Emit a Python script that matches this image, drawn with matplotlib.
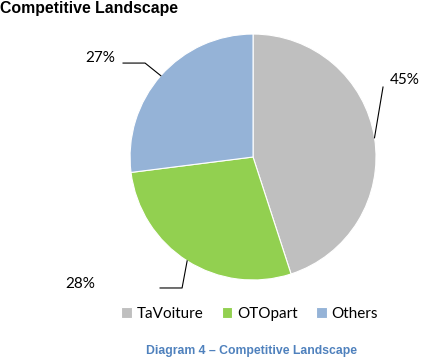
import matplotlib
matplotlib.use('Agg')
import matplotlib.pyplot as plt
import numpy as np

labels = ["TaVoiture", "OTOpart", "Others"]
shares = [45, 28, 27]
colors = ["#BFBFBF", "#92D050", "#95B3D7"]

fig = plt.figure(figsize=(4.23, 3.58), dpi=100)
ax = fig.add_axes([0.3074, 0.2179, 0.5816, 0.687])

wedges, _ = ax.pie(shares, colors=colors, startangle=90, counterclock=False,
                   wedgeprops=dict(linewidth=0.8, edgecolor='white'))
ax.set_xlim(-1, 1)
ax.set_ylim(-1, 1)
ax.set_aspect('equal')
ax.axis('off')

# leader lines: (elbow dx, dy), (end dx), label position
leaders = [
    [(1.057, 0.569), None, (1.236, 0.626)],
    [(-0.577, -1.065), (-0.756, -1.065), (-1.407, -1.033)],
    [(-0.878, 0.764), (-1.057, 0.764), (-1.244, 0.805)],
]
for w, s, (p1, p2, lab) in zip(wedges, shares, leaders):
    a = np.deg2rad((w.theta1 + w.theta2) / 2)
    xs = [np.cos(a), p1[0]]
    ys = [np.sin(a), p1[1]]
    if p2 is not None:
        xs.append(p2[0])
        ys.append(p2[1])
    ax.plot(xs, ys, color='black', lw=0.8, clip_on=False)
    ax.text(lab[0], lab[1], f"{s}%", ha='center', va='center', fontsize=11,
            family='Lato')

fig.text(0.0, 0.975, "Competitive Landscape", fontsize=11.4, fontweight='bold',
         family='Liberation Sans', ha='left', va='center')

leg = fig.legend(wedges, labels, loc='center', bbox_to_anchor=(0.59, 0.123), ncol=3,
                 frameon=False, prop=dict(family='Lato', size=11),
                 handlelength=0.7, handleheight=0.7, handletextpad=0.3, columnspacing=1.2)

fig.text(0.595, 0.02, "Diagram 4 \u2013 Competitive Landscape", color='#4F81BD',
         fontsize=8.8, fontweight='bold', family='Liberation Sans', ha='center', va='center')

fig.savefig("out.png", dpi=100)
